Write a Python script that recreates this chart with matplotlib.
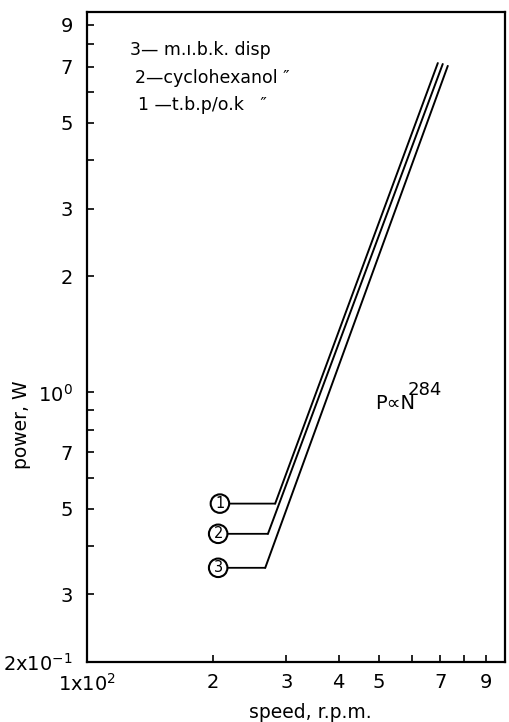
import matplotlib.pyplot as plt

plt.rcParams['font.family'] = ['DejaVu Sans']
plt.rcParams['mathtext.default'] = 'regular'

# lignes de puissance : point de depart (bas) et point final (haut)
series_ids = ['1', '2', '3']
speed_start = [282, 271, 267]
power_start = [0.515, 0.430, 0.351]
speed_end = [691, 710, 730]
power_end = [7.15, 7.11, 7.03]

# position des etiquettes cerclees
label_speed = [208, 206, 206]

legend_lines = ['3\u2014 m.\u0131.b.k. disp',
                '2\u2014cyclohexanol \u2033',
                '1 \u2014t.b.p/o.k   \u2033']

xticks = [100, 200, 300, 400, 500, 600, 700, 800, 900]
xlabels = ['1x10$^2$', '2', '3', '4', '5', '', '7', '', '9']
yticks = [0.2, 0.3, 0.4, 0.5, 0.6, 0.7, 0.8, 0.9, 1, 2, 3, 4, 5, 6, 7, 8, 9]
ylabels = ['2x10$^{-1}$', '3', '', '5', '', '7', '', '', '10$^0$',
           '2', '3', '', '5', '', '7', '', '9']

fig = plt.figure(figsize=(5.1, 7.22), dpi=100)
ax = fig.add_axes([0.1706, 0.0831, 0.8194, 0.9003])
ax.set_xscale('log')
ax.set_yscale('log')
ax.set_xlim(100, 1000)
ax.set_ylim(0.2, 9.7)

for i in range(len(series_ids)):
    ax.plot([speed_start[i], speed_end[i]], [power_start[i], power_end[i]],
            color='black', lw=1.4, solid_capstyle='round')
    ax.annotate(series_ids[i], xy=(speed_start[i], power_start[i]),
                xytext=(label_speed[i], power_start[i]),
                ha='center', va='center', fontsize=10.5,
                bbox=dict(boxstyle='circle,pad=0.12', fc='white', ec='black', lw=1.5),
                arrowprops=dict(arrowstyle='-', color='black', lw=1.3,
                                shrinkA=0, shrinkB=0))

ax.set_xticks(xticks)
ax.set_xticklabels(xlabels)
ax.set_yticks(yticks)
ax.set_yticklabels(ylabels)
ax.minorticks_off()
ax.tick_params(axis='both', direction='in', length=5, width=1.2, labelsize=14)
ax.tick_params(axis='y', pad=10)
ax.tick_params(axis='x', pad=8)
for s in ax.spines.values():
    s.set_linewidth(1.6)

for k, txt in enumerate(legend_lines):
    ax.text([0.103, 0.115, 0.122][k], [0.942, 0.898, 0.857][k], txt,
            transform=ax.transAxes, fontsize=12.5, va='center', ha='left')

ax.text(0.689, 0.398, 'P\u221dN', transform=ax.transAxes,
        fontsize=14, va='center', ha='left')
ax.text(0.768, 0.418, '284', transform=ax.transAxes,
        fontsize=13, va='center', ha='left')

fig.text(310 / 510, 1 - 712 / 722, 'speed, r.p.m.', fontsize=13.5,
         ha='center', va='center')
fig.text(22 / 510, 1 - 425 / 722, 'power, W', fontsize=13.5,
         ha='center', va='center', rotation=90)

plt.savefig('out.png', dpi=100)
